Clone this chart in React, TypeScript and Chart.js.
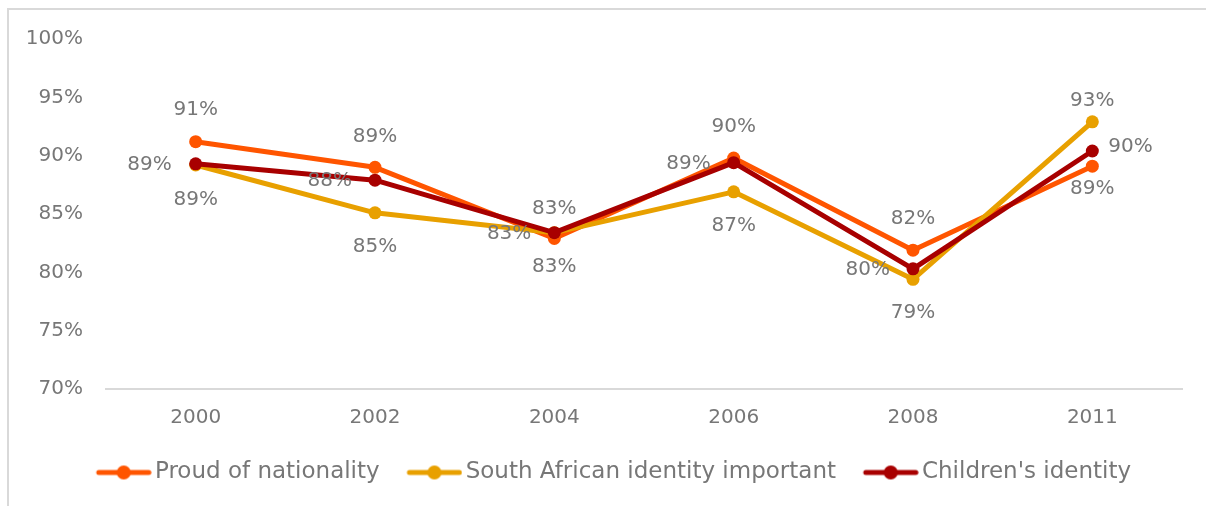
import React, { useEffect, useRef } from "react";
import { Chart, registerables } from "chart.js";

Chart.register(...registerables);

const years = ["2000", "2002", "2004", "2006", "2008", "2011"];
const proudOfNationality = [91.2, 89.0, 82.9, 89.8, 81.9, 89.1];
const saIdentityImportant = [89.2, 85.1, 83.4, 86.9, 79.4, 92.9];
const childrensIdentity = [89.3, 87.9, 83.4, 89.4, 80.3, 90.4];
const seriesNames = [
  "Proud of nationality",
  "South African identity important",
  "Children's identity",
];
const yTickMin = 70;
const yTickMax = 100;
const yTickStep = 5;

// label placement per point (style, not data)
const labelPlacement = [
  ["above", "above", "below", "above", "above", "below"],
  ["below", "below", "left", "below", "below", "above"],
  ["left", "left", "above", "left", "left", "right"],
];
// distance of each label from its point (style, not data)
const labelGap = [
  [32, 31, 28, 31, 31, 23],
  [35, 34, 23, 34, 33, 21],
  [24, 23, 24, 23, 23, 16],
];

const COLORS = ["#FF5500", "#E8A000", "#A80000"];
const FONT = "'DejaVu Sans', sans-serif";
const TEXT = "#777777";

function makeLegendIcon(color: string): HTMLCanvasElement {
  const c = document.createElement("canvas");
  c.width = 64;
  c.height = 16;
  const ctx = c.getContext("2d")!;
  ctx.strokeStyle = color;
  ctx.lineWidth = 5;
  ctx.lineCap = "round";
  ctx.beginPath();
  ctx.moveTo(11, 8);
  ctx.lineTo(61, 8);
  ctx.stroke();
  ctx.fillStyle = color;
  ctx.beginPath();
  ctx.arc(36, 8, 7, 0, Math.PI * 2);
  ctx.fill();
  return c;
}

const pointLabelPlugin = {
  id: "pointLabels",
  afterDatasetsDraw(chart: any) {
    const ctx = chart.ctx;
    ctx.save();
    ctx.font = `20px ${FONT}`;
    ctx.fillStyle = TEXT;
    ctx.textBaseline = "middle";
    chart.data.datasets.forEach((ds: any, i: number) => {
      const meta = chart.getDatasetMeta(i);
      meta.data.forEach((pt: any, j: number) => {
        const { x, y } = pt.getProps(["x", "y"], true);
        const text = Math.round(ds.data[j]) + "%";
        const p = labelPlacement[i][j];
        const g = labelGap[i][j];
        if (p === "above") {
          ctx.textAlign = "center";
          ctx.fillText(text, x, y - g);
        } else if (p === "below") {
          ctx.textAlign = "center";
          ctx.fillText(text, x, y + g);
        } else if (p === "left") {
          ctx.textAlign = "right";
          ctx.fillText(text, x - g, y + 1);
        } else {
          ctx.textAlign = "left";
          ctx.fillText(text, x + g, y - 4);
        }
      });
    });
    ctx.restore();
  },
};

export default function App() {
  const ref = useRef<HTMLCanvasElement | null>(null);

  useEffect(() => {
    if (!ref.current) return;
    const icons = COLORS.map(makeLegendIcon);
    const seriesData = [proudOfNationality, saIdentityImportant, childrensIdentity];
    const orders = [2, 1, 0];
    const chart = new Chart(ref.current, {
      type: "line",
      data: {
        labels: years,
        datasets: seriesData.map((d, i) => ({
          label: seriesNames[i],
          data: d,
          borderColor: COLORS[i],
          backgroundColor: COLORS[i],
          pointBackgroundColor: COLORS[i],
          pointBorderColor: COLORS[i],
          pointBorderWidth: 0,
          pointRadius: 6.5,
          borderWidth: 5,
          borderCapStyle: "round",
          borderJoinStyle: "round",
          tension: 0,
          order: orders[i],
          yAxisID: "y",
        })),
      },
      options: {
        responsive: false,
        animation: false,
        layout: { padding: { top: 29, left: 0, right: 0, bottom: 0 } },
        scales: {
          x: {
            offset: true,
            grid: { display: true, drawOnChartArea: false, drawTicks: false },
            border: { display: true, color: "#d9d9d9", width: 2 },
            ticks: {
              padding: 17,
              color: TEXT,
              font: { family: FONT, size: 20 },
              maxRotation: 0,
            },
            afterFit: (s: any) => {
              s.height = 45;
            },
          },
          y: {
            position: "left",
            min: yTickMin,
            max: yTickMax,
            grid: {
              display: true,
              drawOnChartArea: false,
              drawTicks: true,
              tickLength: 23,
              tickColor: "rgba(0,0,0,0)",
            },
            border: { display: false },
            ticks: {
              stepSize: yTickStep,
              padding: 0,
              color: TEXT,
              font: { family: FONT, size: 20 },
              callback: (v: any) => v + "%",
            },
            afterFit: (s: any) => {
              s.width = 97;
            },
          },
          y2: {
            position: "right",
            display: true,
            grid: { display: false, drawTicks: false, drawOnChartArea: false },
            border: { display: false, width: 0 },
            ticks: { display: false },
            afterFit: (s: any) => {
              s.width = 36;
            },
          },
        },
        plugins: {
          tooltip: { enabled: false },
          legend: {
            position: "bottom",
            labels: {
              usePointStyle: true,
              pointStyleWidth: 47.5,
              padding: 27,
              color: TEXT,
              font: { family: FONT, size: 23 },
              sort: (a: any, b: any) => a.datasetIndex - b.datasetIndex,
              generateLabels: (c: any) => {
                const items = (Chart as any).defaults.plugins.legend.labels.generateLabels(c);
                return items.map((it: any) => ({ ...it, pointStyle: icons[it.datasetIndex] }));
              },
            },
          },
        },
      } as any,
      plugins: [pointLabelPlugin],
    });
    return () => chart.destroy();
  }, []);

  return (
    <div
      style={{
        position: "fixed",
        left: 7,
        top: 8,
        width: 1400,
        height: 700,
        overflow: "hidden",
        background: "#ffffff",
        borderLeft: "2px solid #d9d9d9",
        borderTop: "2px solid #d9d9d9",
        boxSizing: "border-box",
      }}
    >
      <canvas
        ref={ref}
        width={1209}
        height={484}
        style={{ display: "block", width: 1209, height: 484 }}
      />
    </div>
  );
}
